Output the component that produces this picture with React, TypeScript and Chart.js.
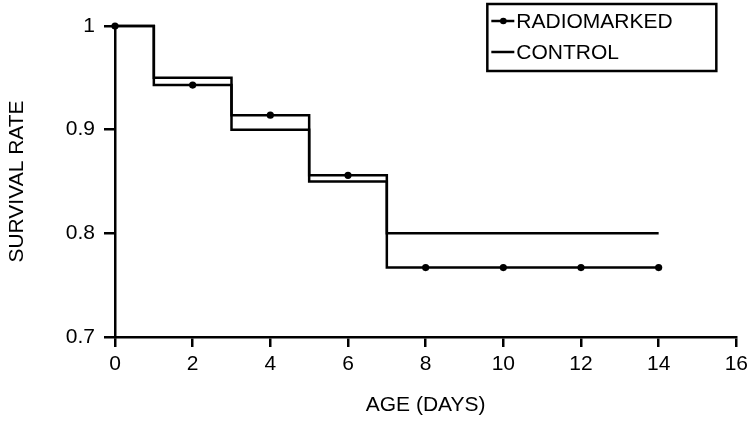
import React, { useEffect, useRef } from "react";
import { Chart, registerables } from "chart.js";

Chart.register(...registerables);

// Kaplan–Meier style step data (x = age in days)
const radioStepX = [0, 1, 3, 5, 7, 14];
const radioStepY = [1, 0.943, 0.914, 0.856, 0.767, 0.767];
const radioMarkX = [0, 2, 4, 6, 8, 10, 12, 14];
const radioMarkY = [1, 0.943, 0.914, 0.856, 0.767, 0.767, 0.767, 0.767];
const controlX = [0, 1, 3, 5, 7, 14];
const controlY = [1, 0.95, 0.9, 0.85, 0.8, 0.8];

const xTicks = [0, 2, 4, 6, 8, 10, 12, 14, 16];
const yTicks = [0.7, 0.8, 0.9, 1];
const legendLabels = ["RADIOMARKED", "CONTROL"];
const xTitle = "AGE (DAYS)";
const yTitle = "SURVIVAL RATE";

const FONT = "'Liberation Sans', Arial, Helvetica, sans-serif";
const FS = 21;

const legendPlugin = {
  id: "boxLegend",
  afterDraw(chart: any) {
    const ctx = chart.ctx;
    const area = chart.chartArea;
    const x0 = area.right - 249;
    const y0 = area.top - 22;
    const w = 229;
    const h = 67;
    ctx.save();
    ctx.strokeStyle = "#000";
    ctx.lineWidth = 2.5;
    ctx.strokeRect(x0, y0, w, h);
    ctx.font = `${FS}px ${FONT}`;
    ctx.fillStyle = "#000";
    ctx.textBaseline = "middle";
    ctx.textAlign = "left";
    const rows = [y0 + 17, y0 + 48];
    legendLabels.forEach((label, i) => {
      const yy = rows[i];
      ctx.beginPath();
      ctx.moveTo(x0 + 4, yy);
      ctx.lineTo(x0 + 27, yy);
      ctx.lineWidth = 2.5;
      ctx.stroke();
      if (i === 0) {
        ctx.beginPath();
        ctx.arc(x0 + 16, yy, 3.3, 0, Math.PI * 2);
        ctx.fill();
      }
      ctx.fillText(label, x0 + 29, yy + 1);
    });
    ctx.restore();
  },
};

export default function App() {
  const ref = useRef<HTMLCanvasElement | null>(null);
  useEffect(() => {
    if (!ref.current) return;
    const chart = new Chart(ref.current, {
      type: "scatter",
      data: {
        datasets: [
          {
            label: legendLabels[1],
            data: controlX.map((x, i) => ({ x, y: controlY[i] })),
            showLine: true,
            stepped: "before",
            borderColor: "#000",
            borderWidth: 2.5,
            pointRadius: 0,
            clip: false,
          },
          {
            label: legendLabels[0],
            data: radioStepX.map((x, i) => ({ x, y: radioStepY[i] })),
            showLine: true,
            stepped: "before",
            borderColor: "#000",
            borderWidth: 2.5,
            pointRadius: 0,
            clip: false,
          },
          {
            label: legendLabels[0] + " points",
            data: radioMarkX.map((x, i) => ({ x, y: radioMarkY[i] })),
            showLine: false,
            pointRadius: 3.6,
            pointBackgroundColor: "#000",
            pointBorderColor: "#000",
            borderWidth: 0,
            clip: false,
          },
        ],
      },
      options: {
        animation: false,
        responsive: true,
        maintainAspectRatio: false,
        layout: { padding: { top: 26, right: 13, left: 0, bottom: 0 } },
        plugins: { legend: { display: false }, tooltip: { enabled: false } },
        scales: {
          x: {
            type: "linear",
            min: 0,
            max: 16,
            afterBuildTicks: (s: any) => {
              s.ticks = xTicks.map((v) => ({ value: v }));
            },
            afterFit: (s: any) => {
              s.height = 84;
            },
            ticks: {
              color: "#000",
              font: { family: FONT, size: FS },
              padding: 5,
              maxRotation: 0,
              callback: (v: any) => String(v),
            },
            grid: {
              drawOnChartArea: false,
              drawTicks: true,
              tickLength: 10,
              color: "#000",
              lineWidth: 2.5,
            },
            border: { display: true, color: "#000", width: 2.5 },
            title: {
              display: true,
              text: xTitle,
              color: "#000",
              font: { family: FONT, size: FS },
              padding: { top: 0, bottom: 3 },
            },
          },
          y: {
            type: "linear",
            min: 0.7,
            max: 1,
            afterBuildTicks: (s: any) => {
              s.ticks = yTicks.map((v) => ({ value: v }));
            },
            afterFit: (s: any) => {
              s.width = 115;
            },
            ticks: {
              color: "#000",
              font: { family: FONT, size: FS },
              padding: 9,
              callback: (v: any) => String(Math.round(v * 10) / 10),
            },
            grid: {
              drawOnChartArea: false,
              drawTicks: true,
              tickLength: 11,
              color: "#000",
              lineWidth: 2.5,
            },
            border: { display: true, color: "#000", width: 2.5 },
            title: {
              display: true,
              text: yTitle,
              color: "#000",
              font: { family: FONT, size: FS },
              padding: { top: 5, bottom: 0 },
            },
          },
        },
      },
      plugins: [legendPlugin],
    });
    return () => chart.destroy();
  }, []);
  return (
    <div style={{ position: "fixed", left: 0, top: 0, width: 753, height: 421, background: "#fff" }}>
      <canvas ref={ref} />
    </div>
  );
}
